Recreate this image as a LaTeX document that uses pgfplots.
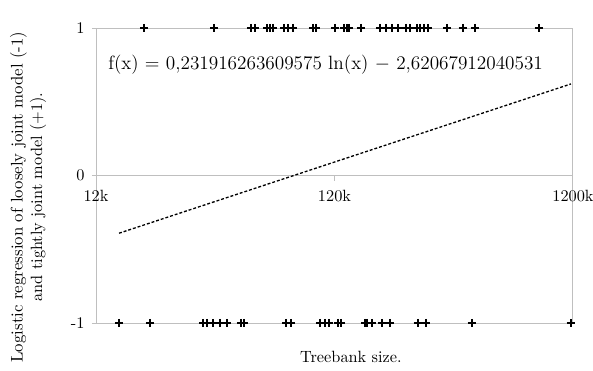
\documentclass[border=0pt]{standalone}
\usepackage{pgfplots}
\pgfplotsset{compat=1.18}
\begin{document}
\begin{tikzpicture}
\useasboundingbox (-58.9pt,-28.8pt) rectangle (304.9pt,198.2pt);
\begin{axis}[
  at={(0,0)}, anchor=south west,
  scale only axis, width=292.6pt, height=181pt,
  xmode=log, xmin=12000, xmax=1200000, ymin=-1, ymax=1,
  xtick=\empty,
  ytick={-1,0,1}, yticklabels={{-1},0,1},
  ytick pos=left,
  ymajorgrids, major grid style={gray!50, line width=0.6pt},
  axis line style={gray!50, line width=0.6pt},
  y tick style={gray!50, line width=0.6pt},
  tick align=outside, major tick length=2.5pt,
  yticklabel style={font=\fontsize{10}{12}\selectfont, xshift=-1pt},
  clip=false,
]
\addplot[only marks, mark=+, mark size=2.6pt, line width=0.8pt, black] coordinates {
(19080,1) (37500,1) (53590,1) (55700,1) (62540,1) (64380,1) (66280,1)
(73720,1) (76600,1) (80390,1) (97510,1) (100370,1) (120600,1) (131500,1)
(135400,1) (138000,1) (155000,1) (186200,1) (197300,1) (209000,1)
(221500,1) (239300,1) (248700,1) (266200,1) (274000,1) (284700,1)
(295900,1) (355600,1) (414900,1) (465800,1) (864200,1)
};
\addplot[only marks, mark=+, mark size=2.6pt, line width=0.8pt, black] coordinates {
(14980,-1) (20210,-1) (33720,-1) (35040,-1) (37130,-1) (39730,-1) (42510,-1)
(48660,-1) (50090,-1) (75140,-1) (78850,-1) (104350,-1) (109500,-1)
(113800,-1) (124100,-1) (127800,-1) (161200,-1) (164300,-1) (172300,-1)
(189800,-1) (205100,-1) (268700,-1) (290300,-1) (452500,-1) (1177000,-1)
};
\addplot[black, line width=0.8pt, dash pattern=on 1.8pt off 1.2pt] coordinates {
(14980,-0.391) (1177000,0.621)
};
\end{axis}
\draw[gray!50, line width=0.6pt] (146.3pt,90.5pt) -- (146.3pt,87.3pt);
\node[anchor=north, inner sep=0] at (0pt,81.9pt) {12k};
\node[anchor=north, inner sep=0] at (146.3pt,81.9pt) {120k};
\node[anchor=north, inner sep=0] at (292.6pt,81.9pt) {1200k};
\node[anchor=west, inner sep=0] at (7.4pt,158.3pt) {\fontsize{11.8}{14}\selectfont f(x) = 0,231916263609575 ln(x) $-$ 2,62067912040531};
\node[rotate=90, align=center, inner sep=0] at (-41.7pt,77.3pt) {\fontsize{10.3}{12.3}\selectfont Logistic regression of loosely joint model (-1)\\ and tightly joint model (+1).};
\node[inner sep=0] at (156.4pt,-20.9pt) {Treebank size.};
\end{tikzpicture}
\end{document}
